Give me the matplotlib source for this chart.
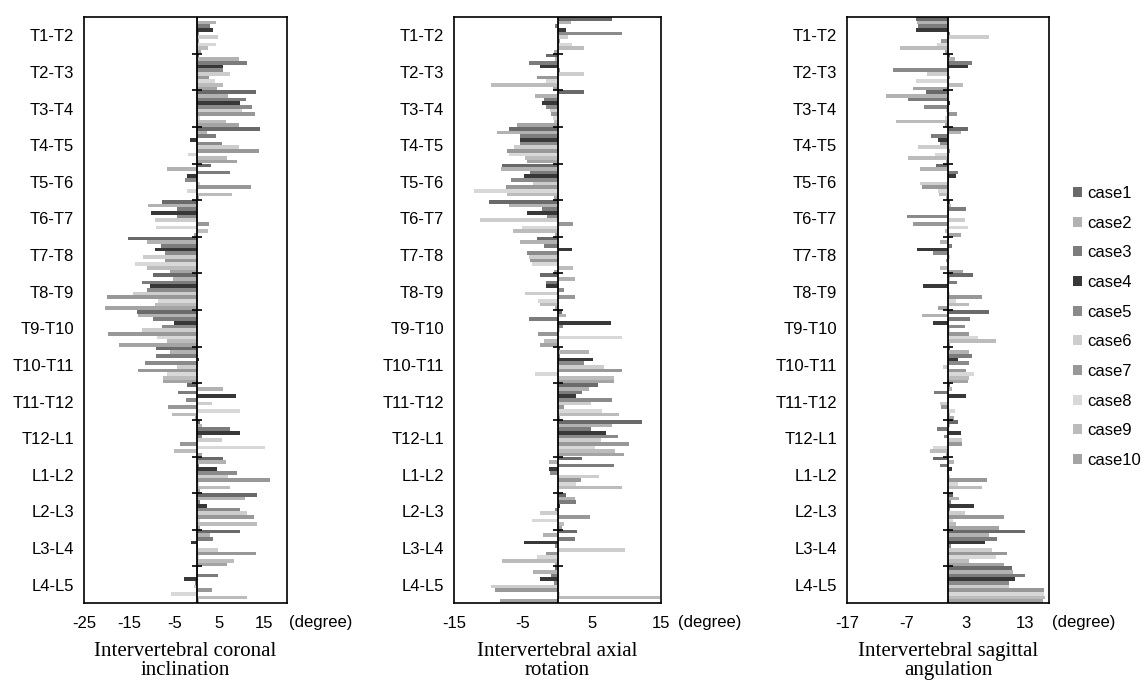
import numpy as np
import matplotlib
matplotlib.use("Agg")
import matplotlib.pyplot as plt
from matplotlib.patches import Patch
from matplotlib.transforms import offset_copy

# Levels (top to bottom) and cases
levels = ["T1-T2", "T2-T3", "T3-T4", "T4-T5", "T5-T6", "T6-T7", "T7-T8", "T8-T9",
          "T9-T10", "T10-T11", "T11-T12", "T12-L1", "L1-L2", "L2-L3", "L3-L4", "L4-L5"]
cases = ["case1", "case2", "case3", "case4", "case5", "case6", "case7", "case8", "case9", "case10"]

# Intervertebral coronal inclination (degree), one row per level, case1..case10
coronal = [
    [0.3, 4.3, 3.0, 3.5, 0.5, 4.8, 0.5, 4.2, 2.4, 1.0],
    [0.5, 9.3, 11.1, 5.9, 5.9, 7.3, 2.8, 4.1, 5.8, 4.4],
    [13.2, 7.0, 11.0, 9.5, 12.2, 10.0, 13.0, 0.7, 6.5, 9.3],
    [14.1, 2.2, 4.3, -1.5, 5.6, 9.3, 13.7, -1.9, 6.7, 8.9],
    [3.2, -6.7, 7.4, -2.1, -2.6, 0.7, 12.0, -2.1, 7.8, 0.5],
    [-7.6, -10.9, -4.3, -10.1, -4.3, -9.3, 2.6, -9.0, 2.4, -0.6],
    [-15.2, -11.1, -8.0, -9.3, -7.0, -12.0, -7.0, -13.8, -11.0, -6.0],
    [-9.6, -5.2, -12.2, -10.4, -11.1, -14.1, -20.0, -8.5, -9.3, -20.4],
    [-13.2, -13.0, -9.8, -5.0, -7.8, -12.2, -19.6, -8.9, -6.7, -17.2],
    [-9.0, -5.9, -9.0, 0.6, -11.5, -4.4, -13.0, -6.7, -7.4, -7.4],
    [-2.1, 5.8, -4.1, 8.7, -2.4, 3.3, -6.3, 9.6, -5.5, -0.5],
    [0.7, 1.1, 7.4, 9.6, 1.1, 5.6, -3.7, 15.2, -5.0, 1.1],
    [5.9, 6.5, 0.4, 4.4, 8.9, 7.0, 16.3, 0.5, 7.4, 0.8],
    [13.3, 10.7, 0.7, 2.2, 9.5, 11.1, 12.6, 0.7, 13.3, 0.7],
    [9.5, 3.0, 3.6, -1.3, 0.3, 4.8, 13.2, 0.5, 8.3, 6.7],
    [0.2, 0.3, 4.8, -2.8, -0.5, -0.7, 3.3, -5.8, 11.1, 0.5],
]

# Intervertebral axial rotation (degree)
axial = [
    [7.9, 1.9, -0.4, 1.3, 9.3, 1.5, 0.3, 2.1, 3.9, -0.5],
    [-1.7, -0.3, -4.2, -2.6, 0.3, 3.8, -3.0, -1.7, -9.7, -0.7],
    [3.8, -3.2, -2.0, -2.3, -1.6, -1.1, -0.9, -0.6, -0.5, -5.8],
    [-7.0, -8.7, -5.5, -5.4, -5.4, -6.3, -7.3, -7.0, -4.7, -4.4],
    [-8.0, -8.2, -4.0, -4.8, -6.8, -3.5, -7.5, -12.1, -7.3, -0.5],
    [-10.0, -7.0, -2.3, -4.4, -1.5, -11.2, 2.2, -5.1, -6.5, -0.4],
    [-2.9, -5.4, -2.0, 2.1, -4.4, -4.2, -4.0, -3.7, 2.3, -0.5],
    [-2.6, 2.5, -1.6, -1.7, 1.0, -4.7, 2.5, -2.8, -2.5, -0.3],
    [0.7, 1.3, -4.2, 7.7, 0.8, 0.3, -2.8, 9.3, -2.0, -2.5],
    [0.4, 4.5, 0.3, 5.2, 3.8, 6.8, 9.4, -3.2, 8.2, 8.2],
    [5.9, 4.6, 3.6, 2.7, 7.9, 4.9, 1.0, 6.5, 8.9, 0.3],
    [12.3, 7.9, 4.9, 7.0, 8.7, 6.3, 10.4, 5.5, 8.4, 9.7],
    [3.6, -1.2, 8.2, -1.2, -1.1, 6.0, 3.4, 2.7, 9.3, 0.2],
    [1.3, 2.5, 2.7, 0.3, -0.3, -2.5, 4.7, -3.7, 1.0, 0.7],
    [2.8, -2.1, 2.5, -4.8, -0.3, 9.8, -1.7, -3.0, -8.1, -0.4],
    [-0.3, -3.6, -0.9, -2.6, -0.5, -9.7, -9.1, 0.3, 14.9, -8.3],
]

# Intervertebral sagittal angulation (degree)
sagittal = [
    [-5.4, -5.3, -5.0, -5.4, 0.3, 6.9, -1.2, -1.8, -8.1, -0.5],
    [0.3, 1.1, 4.1, 3.3, -9.3, -3.5, 0.3, -5.4, 2.5, -5.9],
    [-3.7, -10.4, -6.7, 0.3, -4.1, -0.3, 1.5, -0.5, -8.8, -0.5],
    [3.3, 2.2, -2.8, -1.7, -1.4, -5.0, 0.3, -2.2, -6.7, -0.3],
    [-2.1, -4.7, 1.7, 1.4, 0.2, -4.7, -4.3, -1.7, -1.5, -0.3],
    [0.3, 0.5, 3.0, 0.2, -6.9, 2.8, -5.9, 3.3, -0.5, 2.2],
    [0.2, -1.4, 0.6, -5.2, -2.5, 0.4, -0.3, 0.2, -1.4, 2.5],
    [4.2, 0.3, 1.5, -4.2, 0.2, 0.3, 5.7, 1.4, 3.5, -1.7],
    [6.9, -4.4, 3.7, -2.6, 2.8, 0.3, 3.6, 5.0, 8.1, 0.3],
    [0.3, 3.6, 4.1, 1.7, 3.5, -0.8, 3.0, 4.4, 3.5, 3.3],
    [0.3, 0.7, -2.4, 3.0, 0.2, -1.4, -1.1, 1.1, 0.3, 1.0],
    [1.7, 0.3, -1.9, 2.2, -0.6, 2.4, 2.4, -2.5, -3.1, -0.4],
    [-2.6, 1.0, -1.4, 0.6, 0.2, 0.3, 6.5, 1.7, 5.8, 0.2],
    [0.8, 1.8, 0.5, 4.3, 0.3, 2.9, 9.4, 0.8, 1.4, 8.5],
    [12.9, 6.9, 8.3, 6.3, 0.5, 7.4, 10.0, 8.1, 3.6, 9.4],
    [10.8, 11.0, 12.9, 11.3, 10.3, 10.3, 16.1, 16.1, 16.3, 16.0],
]

titles = ["Intervertebral coronal\ninclination",
          "Intervertebral axial\nrotation",
          "Intervertebral sagittal\nangulation"]
xlims = [(-24.5, 20), (-15, 15), (-17, 17)]
xticks = [[-25, -15, -5, 5, 15], [-15, -5, 5, 15], [-17, -7, 3, 13]]
unit_gap = [2, 17, 3]   # px between box edge and "(degree)"

# grey halftone shades for the cases
colors = ["#6a6a6a", "#b2b2b2", "#7c7c7c", "#383838", "#8a8a8a",
          "#cdcdcd", "#989898", "#d8d8d8", "#bcbcbc", "#a4a4a4"]

plt.rcParams["font.family"] = ["Liberation Sans", "DejaVu Sans"]

fig = plt.figure(figsize=(11.44, 6.86), dpi=100)

# axes boxes in figure fractions (left, width)
boxes = [(84 / 1144, 203 / 1144), (454 / 1144, 207 / 1144), (847 / 1144, 202 / 1144)]
bottom = 1 - 603 / 686
height = (603 - 17) / 686

n_lev = len(levels)
n_case = len(cases)
bar_h = 1.0 / n_case
ypos = np.arange(n_lev)

for p, data in enumerate([coronal, axial, sagittal]):
    left, width = boxes[p]
    ax = fig.add_axes([left, bottom, width, height])
    vals = np.array(data)
    for k in range(n_case):
        offs = -0.5 + bar_h * (k + 0.5)
        ax.barh(ypos + offs, vals[:, k], height=bar_h, color=colors[k],
                edgecolor="none", linewidth=0)
    ax.axvline(0, color="black", lw=1.3, zorder=3)
    # small marks at the level boundaries on the zero line
    ax.plot(np.zeros(n_lev - 1), ypos[:-1] + 0.5, marker="_", ls="none",
            color="black", ms=7, mew=1.2, zorder=4)
    ax.set_xlim(*xlims[p])
    ax.set_ylim(n_lev - 0.5, -0.5)
    ax.set_yticks(ypos)
    ax.set_yticklabels(levels, fontsize=12)
    ax.set_xticks(xticks[p])
    ax.set_xticklabels([str(t) for t in xticks[p]], fontsize=12)
    ax.tick_params(axis="y", length=0, pad=7)
    ax.tick_params(axis="x", length=0, pad=9)
    for s in ax.spines.values():
        s.set_linewidth(1.2)
        s.set_color("black")
    # unit text right of the axis, on the tick label row
    tr = offset_copy(ax.transAxes, fig=fig, x=unit_gap[p], y=-12.5, units="dots")
    ax.text(1.0, 0.0, "(degree)", transform=tr, ha="left", va="top", fontsize=12)
    ax.text(0.5, -0.067, titles[p], transform=ax.transAxes, ha="center", va="top",
            fontsize=15, family="Liberation Serif", linespacing=1.0)

handles = [Patch(facecolor=colors[k], edgecolor="none", label=cases[k]) for k in range(n_case)]
fig.legend(handles=handles, loc="upper left", bbox_to_anchor=(1073 / 1144, 1 - 186 / 686),
           frameon=False, fontsize=12, handlelength=0.55, handleheight=0.55,
           handletextpad=0.3, labelspacing=0.88, borderaxespad=0, borderpad=0)

fig.savefig("out.png", dpi=100)
